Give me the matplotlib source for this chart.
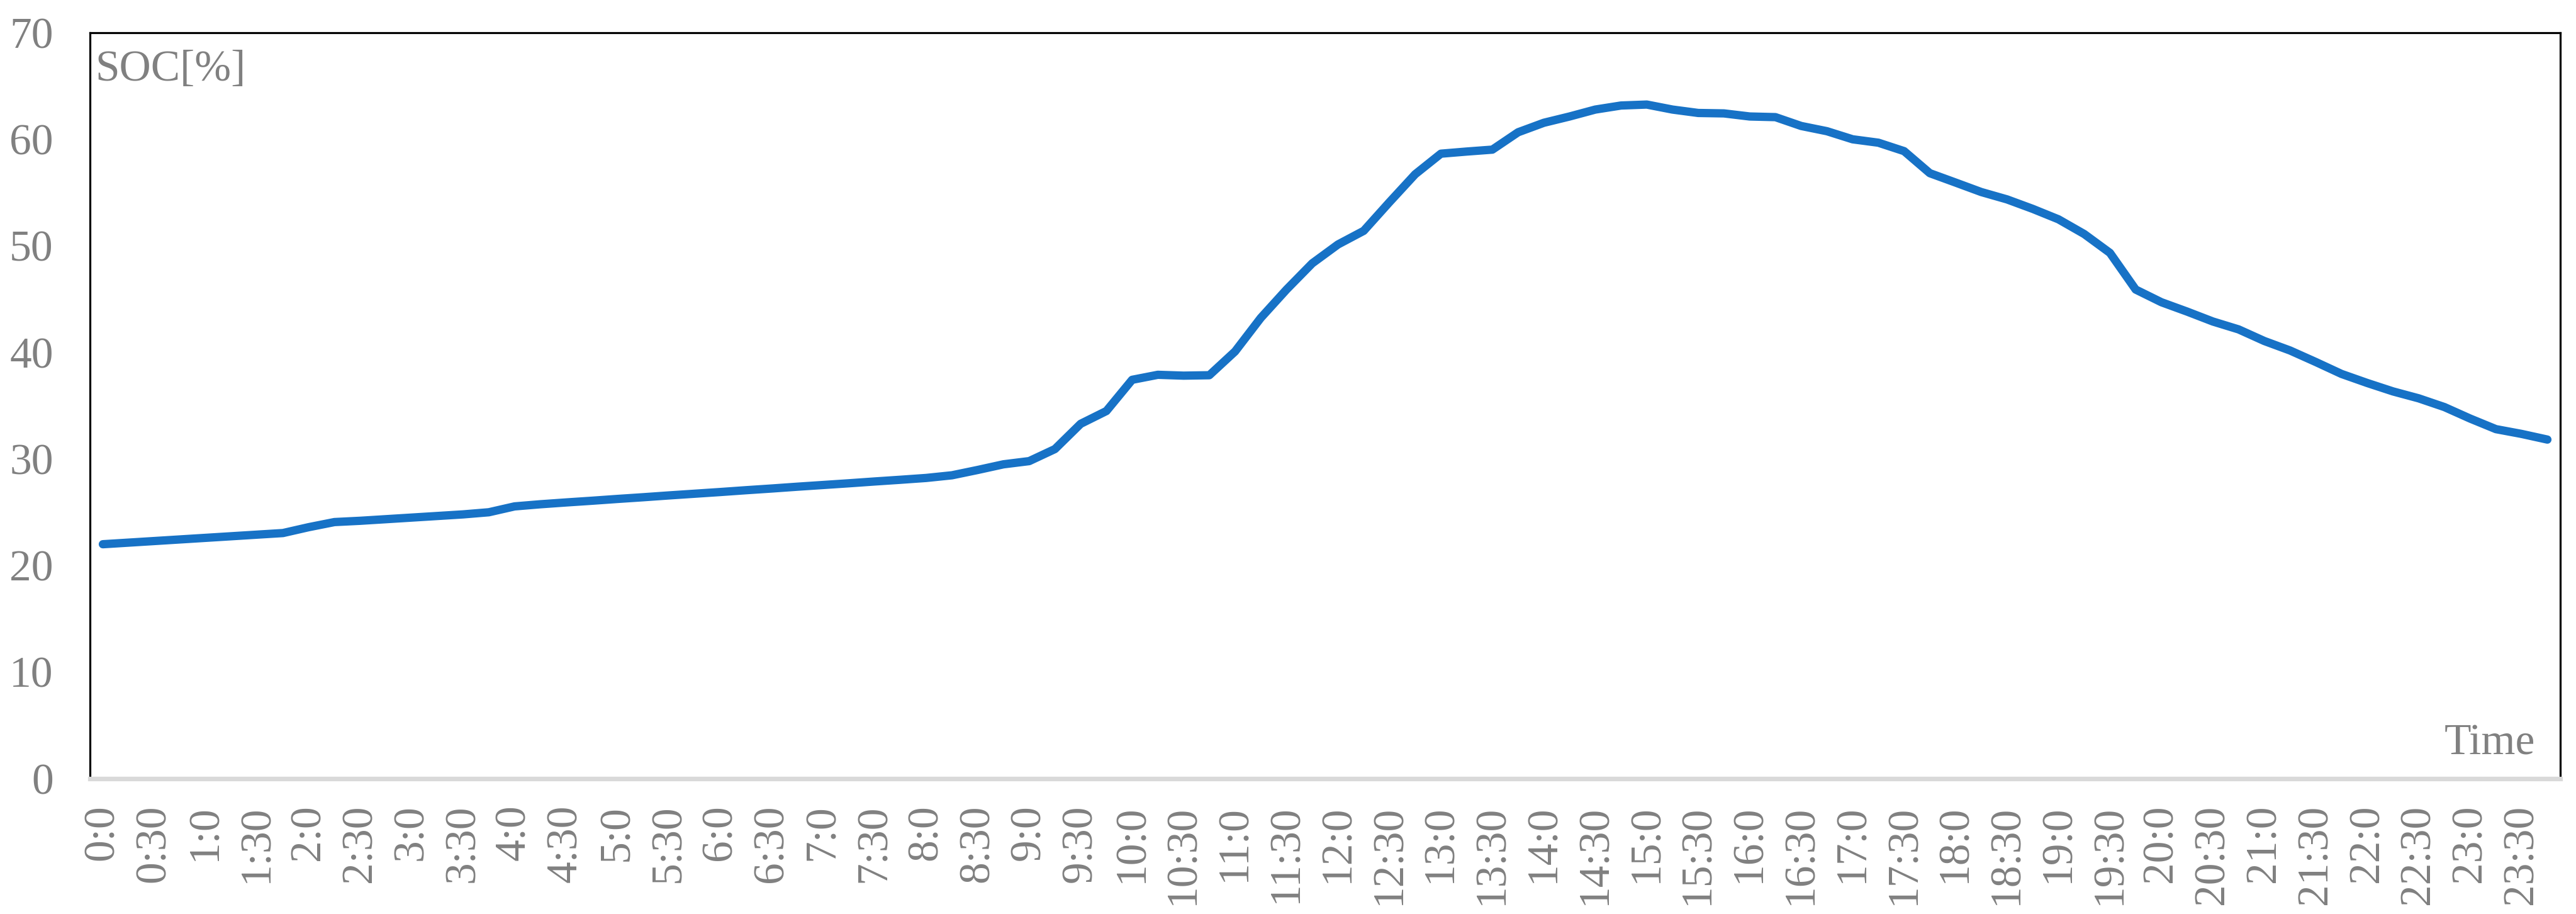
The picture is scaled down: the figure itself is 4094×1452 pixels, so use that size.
import matplotlib
matplotlib.use("Agg")
import matplotlib.pyplot as plt

# 15-minute categories over one day (96 points); labels shown every 30 min
categories = [f"{h}:{m}" for h in range(24) for m in (0, 15, 30, 45)]
tick_labels = [f"{h}:{m}" for h in range(24) for m in (0, 30)]

soc = [
    22.0, 22.15, 22.3, 22.45, 22.6, 22.75, 22.9, 23.05,
    23.6, 24.08, 24.2, 24.35, 24.5, 24.65, 24.8, 25.0,
    25.55, 25.75, 25.92, 26.08, 26.25, 26.41, 26.58, 26.74,
    26.9, 27.07, 27.23, 27.4, 27.56, 27.72, 27.89, 28.05,
    28.22, 28.47, 28.97, 29.5, 29.8, 30.93, 33.3, 34.5,
    37.43, 37.9, 37.82, 37.86, 40.09, 43.24, 45.9, 48.36,
    50.13, 51.41, 54.1, 56.72, 58.65, 58.85, 59.03, 60.66,
    61.55, 62.14, 62.79, 63.17, 63.26, 62.79, 62.47, 62.43,
    62.14, 62.08, 61.25, 60.76, 60.0, 59.68, 58.89, 56.82,
    55.94, 55.05, 54.36, 53.47, 52.49, 51.11, 49.34, 45.9,
    44.71, 43.83, 42.9, 42.16, 41.07, 40.18, 39.1, 37.98,
    37.13, 36.34, 35.69, 34.87, 33.79, 32.8, 32.35, 31.82,
]

y_ticks = [0, 10, 20, 30, 40, 50, 60, 70]

GREY = "#808080"
LINE = "#1772C6"
FONT = ["Liberation Serif", "DejaVu Serif"]

plt.rcParams["font.family"] = FONT

fig = plt.figure(figsize=(40.94, 14.52), dpi=100)
ax = fig.add_axes([0.03493, 0.14807, 0.95896, 0.81612])

x = list(range(len(categories)))
ax.plot(x, soc, color=LINE, linewidth=9.5, solid_capstyle="round",
        solid_joinstyle="round", zorder=3)

ax.set_xlim(-0.5, len(categories) - 0.5)
ax.set_ylim(0, 70)

ax.set_yticks(y_ticks)
ax.set_yticklabels([str(v) for v in y_ticks])
ax.set_xticks(x[::2])
ax.set_xticklabels(tick_labels, rotation=90)

ax.tick_params(axis="both", length=0, labelsize=50, colors=GREY)
ax.tick_params(axis="y", pad=42)
ax.tick_params(axis="x", pad=30)

for side in ("left", "right", "top"):
    ax.spines[side].set_color("black")
    ax.spines[side].set_linewidth(2.3)
ax.spines["bottom"].set_color("#D9D9D9")
ax.spines["bottom"].set_linewidth(5.2)
ax.spines["bottom"].set_zorder(4)

ax.text(0.0022, 0.9361, "SOC[%]", transform=ax.transAxes, ha="left",
        va="baseline", fontsize=50, color=GREY)
ax.text(0.9898, 0.0329, "Time", transform=ax.transAxes, ha="right",
        va="baseline", fontsize=50, color=GREY)

fig.savefig("out.png", dpi=100, facecolor="white")
